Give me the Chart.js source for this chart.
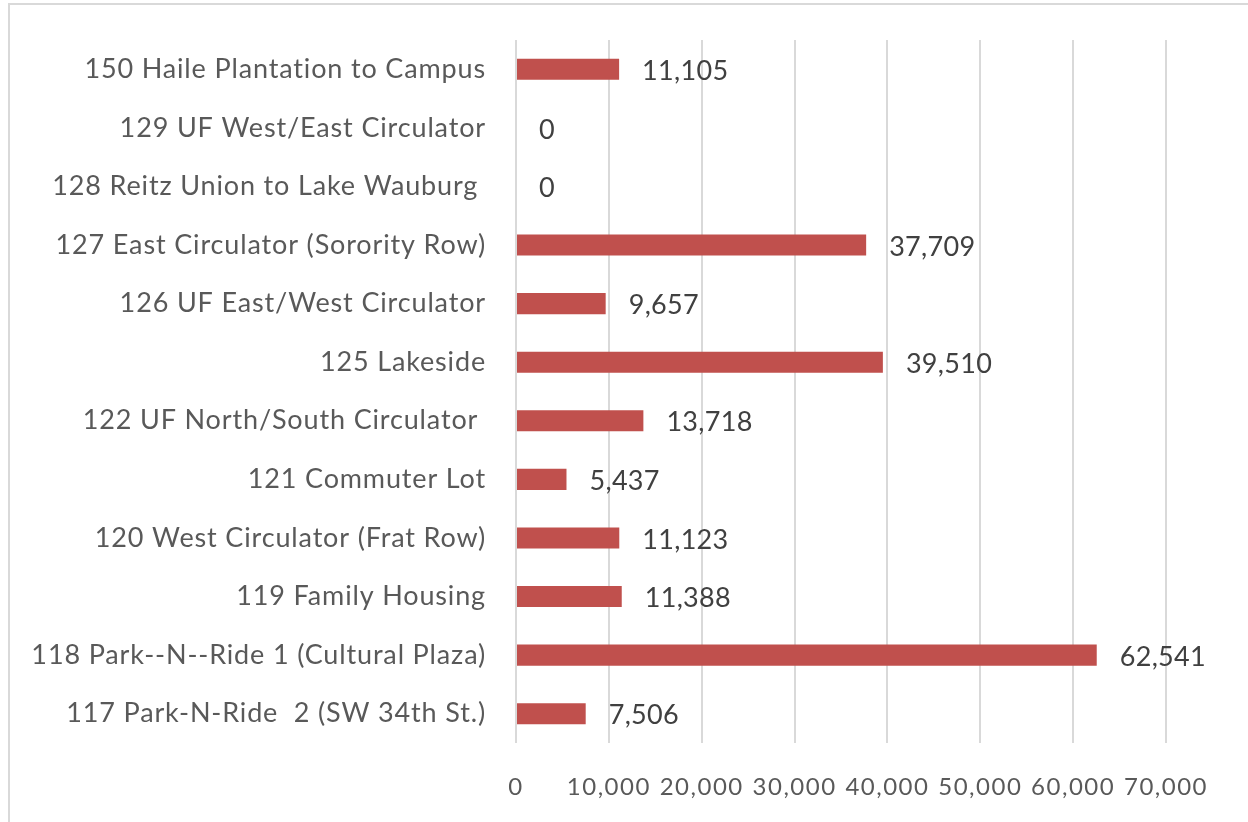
<!DOCTYPE html>
<html>
<head>
<meta charset="utf-8">
<script src="https://cdn.jsdelivr.net/npm/chart.js@4/dist/chart.umd.min.js"></script>
<style>
body{margin:0;background:#fff;}
.frame{position:absolute;left:8px;top:3px;width:1300px;height:900px;border-top:2px solid #d9d9d9;border-left:2px solid #d9d9d9;}
.wrap{position:absolute;left:0;top:0;width:1248px;height:822px;}
</style>
</head>
<body>
<div class="frame"></div>
<div class="wrap"><canvas id="chart" width="1248" height="822"></canvas></div>
<script>
// routes, top to bottom as shown
var routes=[
	'150 Haile Plantation to Campus',
	'129 UF West/East Circulator',
	'128 Reitz Union to Lake Wauburg ',
	'127 East Circulator (Sorority Row)',
	'126 UF East/West Circulator',
	'125 Lakeside',
	'122 UF North/South Circulator ',
	'121 Commuter Lot',
	'120 West Circulator (Frat Row)',
	'119 Family Housing',
	'118 Park--N--Ride 1 (Cultural Plaza)',
	'117 Park-N-Ride  2 (SW 34th St.)'
];
var riders=[11105,0,0,37709,9657,39510,13718,5437,11123,11388,62541,7506];
var xTicks=[0,10000,20000,30000,40000,50000,60000,70000];

var FONT='Lato, "Open Sans", sans-serif';

function fmt(v){
	return v.toLocaleString('en-US');
}

// letter spacing per text group (x ticks drawn first, y labels after the bars)
var spacing={
	id:'spacing',
	beforeDraw:function(chart){
		chart.ctx.letterSpacing='1.5px';
	},
	afterDraw:function(chart){
		chart.ctx.letterSpacing='0px';
	}
};

// draws the value next to each bar
var valueLabels={
	id:'valueLabels',
	afterDatasetsDraw:function(chart){
		var ctx=chart.ctx;
		var meta=chart.getDatasetMeta(0);
		ctx.save();
		ctx.letterSpacing='0.3px';
		ctx.font='27px '+FONT;
		ctx.fillStyle='#404040';
		ctx.textAlign='left';
		ctx.textBaseline='middle';
		for(var i=0;i<meta.data.length;i++){
			var bar=meta.data[i];
			ctx.fillText(fmt(riders[i]), bar.x+23, bar.y+2);
		}
		ctx.restore();
		ctx.letterSpacing='0.85px';
	}
};

var ctx=document.getElementById('chart');
var mc=new Chart(ctx,{
	type:'bar',
	data:{
		labels:routes,
		datasets:[{
			data:riders,
			backgroundColor:'#C0504D',
			borderWidth:0,
			barPercentage:0.36,
			categoryPercentage:1
		}]
	},
	options:{
		indexAxis:'y',
		responsive:false,
		animation:false,
		layout:{padding:{left:0,right:82,top:40,bottom:0}},
		plugins:{legend:{display:false},tooltip:{enabled:false}},
		scales:{
			x:{
				min:0,
				max:70000,
				afterBuildTicks:function(axis){
					axis.ticks=xTicks.map(function(v){return {value:v};});
				},
				afterFit:function(axis){axis.height=79;},
				grid:{color:'#d9d9d9',lineWidth:2,drawTicks:false},
				border:{display:false},
				ticks:{
					padding:30,
					color:'#595959',
					font:{family:FONT,size:24},
					maxRotation:0,
					autoSkip:false,
					callback:function(v){return fmt(v);}
				}
			},
			y:{
				afterFit:function(axis){
					axis.width=516;
					axis.paddingTop=0;
					axis.paddingBottom=0;
				},
				grid:{display:false,drawTicks:false},
				border:{display:false},
				ticks:{
					z:1,
					padding:30,
					color:'#595959',
					font:{family:FONT,size:27},
					autoSkip:false
				}
			}
		}
	},
	plugins:[spacing,valueLabels]
});
</script>
</body>
</html>
